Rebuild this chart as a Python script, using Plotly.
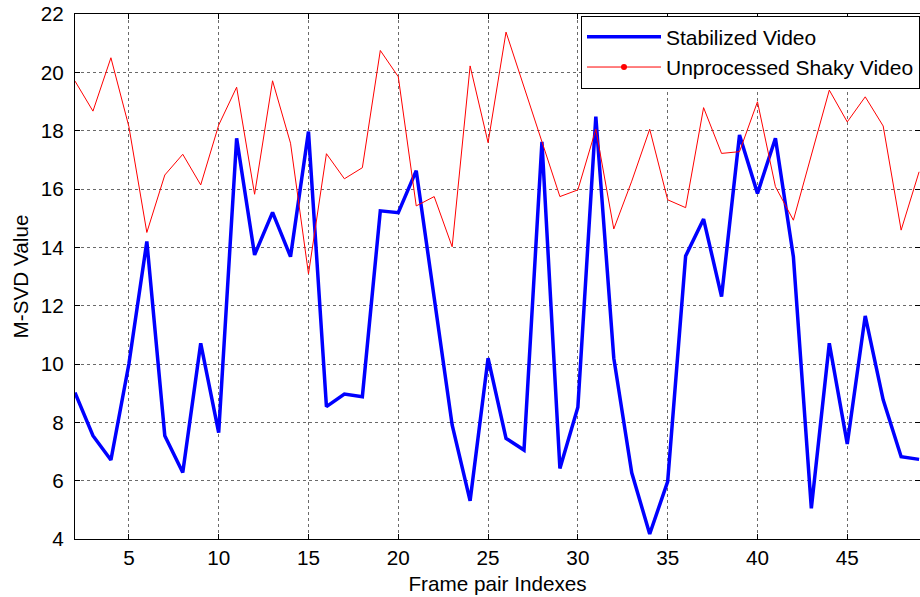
import plotly.graph_objects as go

frames = list(range(2, 50))
stabilized = [9.02, 7.54, 6.71, 10.0, 14.2, 7.54, 6.28, 10.71, 7.65, 17.74,
              13.74, 15.2, 13.68, 17.97, 8.54, 8.97, 8.88, 15.25, 15.19, 16.63,
              12.27, 7.91, 5.31, 10.2, 7.45, 7.05, 17.62, 6.42, 8.52, 18.48,
              10.2, 6.27, 4.17, 5.97, 13.7, 14.97, 12.31, 17.85, 15.85, 17.74,
              13.68, 5.05, 10.71, 7.26, 11.65, 8.77, 6.82, 6.73]
shaky = [19.7, 18.67, 20.5, 18.14, 14.51, 16.48, 17.19, 16.14, 18.19, 19.49,
         15.82, 19.71, 17.57, 13.09, 17.21, 16.35, 16.73, 20.75, 19.85, 15.42,
         15.74, 14.02, 20.22, 17.59, 21.38, 19.51, 17.66, 15.74, 15.97, 18.05,
         14.63, 16.27, 18.05, 15.63, 15.36, 18.79, 17.22, 17.28, 18.99, 16.08,
         14.93, 17.15, 19.39, 18.3, 19.16, 18.16, 14.59, 16.59]
x_ticks = [5, 10, 15, 20, 25, 30, 35, 40, 45]
y_ticks = [4, 6, 8, 10, 12, 14, 16, 18, 20, 22]

FONT = "Liberation Sans, Arial, sans-serif"
FS = 20.7

fig = go.Figure()
fig.add_trace(go.Scatter(x=frames, y=stabilized, mode="lines", name="Stabilized Video",
                         line=dict(color="#0000ff", width=3.5)))
fig.add_trace(go.Scatter(x=frames, y=shaky, mode="lines", name="Unprocessed Shaky Video",
                         line=dict(color="#ff0000", width=1), showlegend=False))
fig.add_trace(go.Scatter(x=[None], y=[None], mode="lines+markers", name="Unprocessed Shaky Video",
                         line=dict(color="#ff0000", width=1),
                         marker=dict(color="#ff0000", size=6)))

axis_common = dict(
    showline=True, linecolor="black", linewidth=1.3, mirror="ticks",
    ticks="inside", ticklen=5, tickcolor="black", tickwidth=1,
    showgrid=True, gridcolor="#6a6a6a", griddash="dot", gridwidth=1,
    zeroline=False,
    tickfont=dict(family=FONT, size=FS, color="black"),
)

fig.update_layout(
    width=920, height=597,
    margin=dict(l=75, r=0, t=14, b=58),
    paper_bgcolor="white", plot_bgcolor="white",
    font=dict(family=FONT, size=FS, color="black"),
    xaxis=dict(range=[2, 49.05], tickvals=x_ticks, ticklabelstandoff=0,
               title=dict(text="Frame pair Indexes", font=dict(family=FONT, size=FS), standoff=8),
               **axis_common),
    yaxis=dict(range=[4, 22], tickvals=y_ticks, ticklabelstandoff=6,
               title=dict(text="M-SVD Value", font=dict(family=FONT, size=FS), standoff=6),
               **axis_common),
    legend=dict(x=1.0, y=0.997, xanchor="right", yanchor="top",
                bgcolor="white", bordercolor="black", borderwidth=1,
                font=dict(family=FONT, size=21, color="black"),
                itemwidth=74, tracegroupgap=0),
    showlegend=True,
)

fig.write_html("out.html")
